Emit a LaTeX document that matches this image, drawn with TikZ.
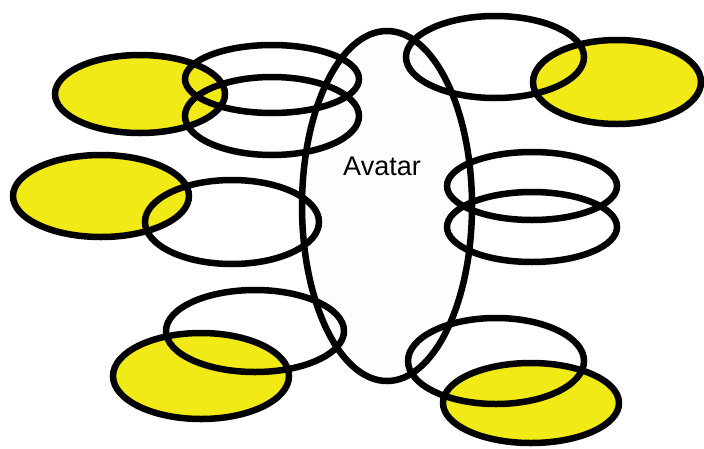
\documentclass[tikz,border=0pt]{standalone}
\usepackage{fontspec}
\newfontfamily\avfont{Liberation Sans}
\definecolor{ylw}{HTML}{F2EA17}
\definecolor{avfill}{HTML}{FDFDFD}
\tikzset{
  ring/.style={draw=black, line width=6.5pt},
}
\begin{document}
\begin{tikzpicture}[x=1pt,y=-1pt]
\useasboundingbox (0,0) rectangle (704,448);
% fills
\fill[avfill] (387,206) ellipse [x radius=85, y radius=175];
\fill[ylw] (140,94) ellipse [x radius=85, y radius=39];
\fill[ylw] (101,196) ellipse [x radius=88, y radius=41];
\fill[ylw] (201,376) ellipse [x radius=88, y radius=43];
\fill[ylw] (617,82) ellipse [x radius=84, y radius=42];
\fill[ylw] (531,403) ellipse [x radius=88, y radius=40];
% outlines
\draw[ring] (387,206) ellipse [x radius=85, y radius=175];
\draw[ring] (140,94) ellipse [x radius=85, y radius=39];
\draw[ring] (101,196) ellipse [x radius=88, y radius=41];
\draw[ring] (201,376) ellipse [x radius=88, y radius=43];
\draw[ring] (617,82) ellipse [x radius=84, y radius=42];
\draw[ring] (531,403) ellipse [x radius=88, y radius=40];
\draw[ring] (272,79) ellipse [x radius=87, y radius=34];
\draw[ring] (272,116) ellipse [x radius=87, y radius=39];
\draw[ring] (232,222) ellipse [x radius=87, y radius=42];
\draw[ring] (255,331) ellipse [x radius=89, y radius=41];
\draw[ring] (495,57) ellipse [x radius=89, y radius=41];
\draw[ring] (532,186) ellipse [x radius=85, y radius=34];
\draw[ring] (532,227) ellipse [x radius=85, y radius=35];
\draw[ring] (496,361) ellipse [x radius=88, y radius=43];
\node[font=\avfont\fontsize{27}{32}\selectfont] (avatar) at (382,166) {Avatar};
\end{tikzpicture}
\end{document}
